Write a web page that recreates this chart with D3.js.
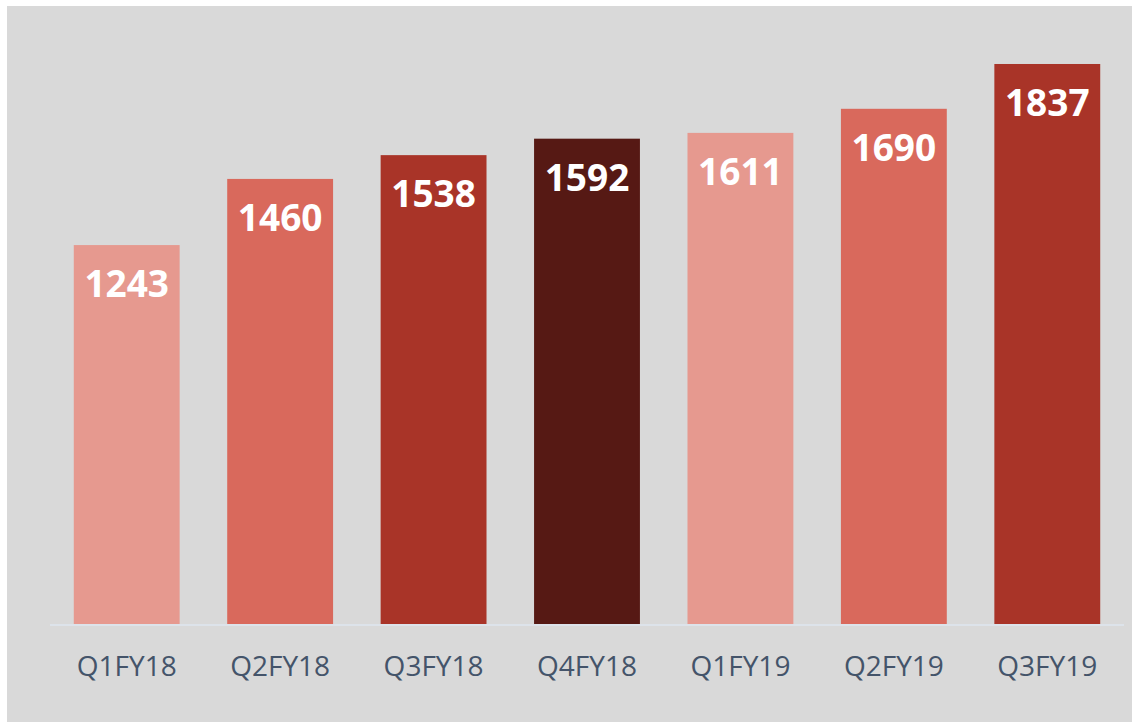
<!DOCTYPE html>
<html><head><meta charset="utf-8">
<script src="https://cdn.jsdelivr.net/npm/d3@7"></script>
<style>body{margin:0;background:#fff;}svg{display:block;}</style>
</head><body>
<svg id="c" width="1132" height="722"></svg>
<script>
const categories = ["Q1FY18","Q2FY18","Q3FY18","Q4FY18","Q1FY19","Q2FY19","Q3FY19"];
const values = [1243,1460,1538,1592,1611,1690,1837];
const colors = ["#E6998F","#D9695C","#A93428","#561914","#E6998F","#D9695C","#A93428"];

const svg = d3.select("#c");
svg.append("rect").attr("x",7).attr("y",6).attr("width",1125).attr("height",716).attr("fill","#D9D9D9");

const x = d3.scaleBand().domain(categories).range([50,1124]).paddingInner(0.31).paddingOuter(0.155);
const y = d3.scaleLinear().domain([0,2000]).range([624,14.3]);

svg.selectAll("rect.bar").data(values).join("rect").attr("class","bar")
  .attr("x",(d,i)=>x(categories[i])).attr("width",x.bandwidth())
  .attr("y",d=>y(d)).attr("height",d=>y(0)-y(d)).attr("fill",(d,i)=>colors[i]);

svg.append("line").attr("x1",50).attr("x2",1124).attr("y1",y(0)+1).attr("y2",y(0)+1)
  .attr("stroke","#DDE3EA").attr("stroke-width",2);

svg.selectAll("text.val").data(values).join("text").attr("class","val")
  .attr("x",(d,i)=>x(categories[i])+x.bandwidth()/2).attr("y",d=>y(d)+52)
  .attr("text-anchor","middle").attr("fill","#fff")
  .style("font-family","'Open Sans', sans-serif").style("font-weight","bold").style("font-size","37px")
  .text(d=>d);

const ax = svg.append("g").attr("transform",`translate(0,${y(0)})`)
  .call(d3.axisBottom(x).tickSize(0).tickPadding(0));
ax.select(".domain").remove();
ax.selectAll("text").attr("y",52).attr("dy",0)
  .style("font-family","'Open Sans', sans-serif").style("font-size","28px").attr("fill","#44546A");
</script>
</body></html>
